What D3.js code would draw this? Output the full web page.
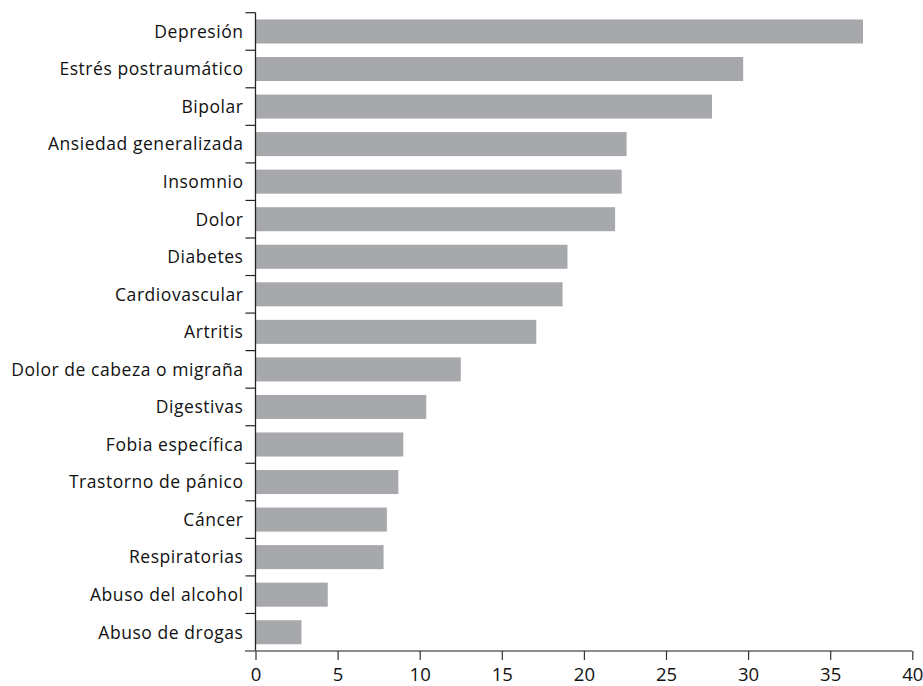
<!DOCTYPE html>
<html><head><meta charset="utf-8">
<script src="https://cdn.jsdelivr.net/npm/d3@7"></script>
<style>body{margin:0;background:#fff}svg{display:block}text{font-family:"Open Sans",sans-serif}</style>
</head><body>
<svg id="c" width="923" height="686"></svg>
<script>
const categories = ["Depresión","Estrés postraumático","Bipolar","Ansiedad generalizada","Insomnio","Dolor","Diabetes","Cardiovascular","Artritis","Dolor de cabeza o migraña","Digestivas","Fobia específica","Trastorno de pánico","Cáncer","Respiratorias","Abuso del alcohol","Abuso de drogas"];
const values = [37.0,29.7,27.8,22.6,22.3,21.9,19.0,18.7,17.1,12.5,10.4,9.0,8.7,8.0,7.8,4.4,2.8];
const xTicks = [0,5,10,15,20,25,30,35,40];

const svg = d3.select("#c");
const x = d3.scaleLinear().domain([0,40]).range([255.5,912.3]);
const y = d3.scaleBand().domain(categories).range([12.7,651]).paddingInner(0.36).paddingOuter(0.18);

svg.append("g").selectAll("rect").data(categories).join("rect")
  .attr("x", x(0)).attr("y", d=>y(d))
  .attr("width", (d,i)=>x(values[i])-x(0)).attr("height", y.bandwidth())
  .attr("fill","#a7a8ab");

// y axis with ticks at band boundaries
const yb = svg.append("g");
yb.append("line").attr("x1",x(0)).attr("x2",x(0)).attr("y1",12.7).attr("y2",651).attr("stroke","#222").attr("stroke-width",1.3);
const step = y.step();
const bounds = d3.range(categories.length).map(i=>12.7+i*step);
yb.selectAll("line.t").data(bounds).join("line").attr("class","t")
  .attr("x1",x(0)-10).attr("x2",x(0)).attr("y1",d=>d).attr("y2",d=>d).attr("stroke","#222").attr("stroke-width",1.2);
yb.selectAll("text").data(categories).join("text")
  .attr("x",x(0)-12).attr("y",d=>y(d)+y.bandwidth()/2).attr("dy","0.36em")
  .attr("text-anchor","end").attr("font-size",17.5).attr("letter-spacing","0.55px").attr("fill","#111").text(d=>d);

// x axis
const xa = svg.append("g").attr("transform","translate(0,651)")
  .call(d3.axisBottom(x).tickValues(xTicks).tickSize(9).tickPadding(5).tickFormat(d3.format("d")));
xa.select(".domain").remove();
xa.insert("line",":first-child").attr("x1",245).attr("x2",912.3).attr("stroke","#666").attr("stroke-width",1.5);
xa.selectAll(".tick line").attr("stroke","#333").attr("stroke-width",1.2);
xa.selectAll(".tick text").attr("font-size",18.5).attr("y",30).attr("dy",0).attr("fill","#111").attr("font-family","'Open Sans', sans-serif");
</script>
</body></html>
